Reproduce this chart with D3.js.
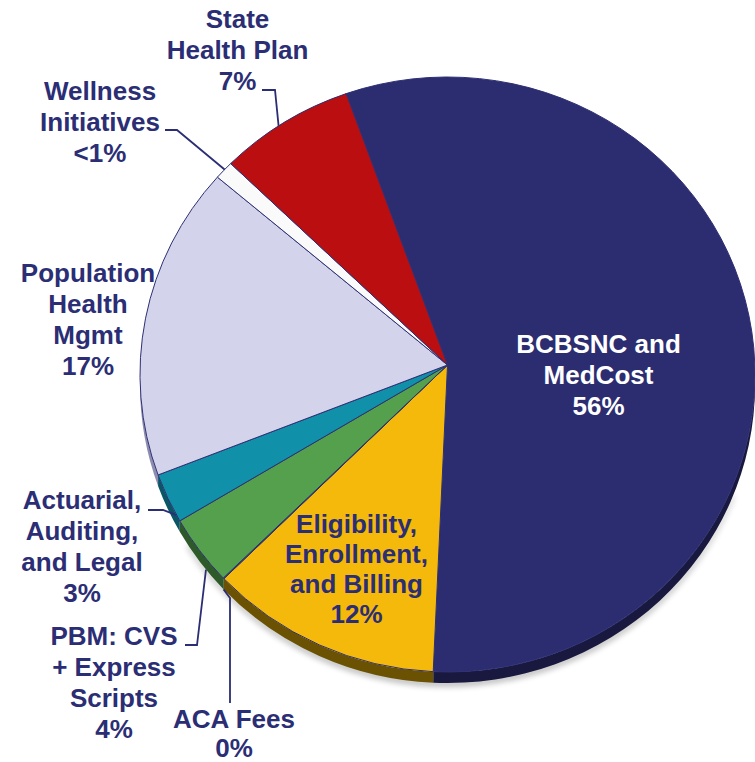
<!DOCTYPE html>
<html>
<head>
<meta charset="utf-8">
<script src="https://cdn.jsdelivr.net/npm/d3@7"></script>
<style>
  html, body { margin: 0; padding: 0; background: #ffffff; }
  svg { display: block; }
  text { font-family: "Liberation Sans", Arial, sans-serif; font-weight: bold; }
</style>
</head>
<body>
<script>
// ---------------- DATA ----------------
const categories = [
  "BCBSNC and MedCost",
  "Eligibility, Enrollment, and Billing",
  "ACA Fees",
  "PBM: CVS + Express Scripts",
  "Actuarial, Auditing, and Legal",
  "Population Health Mgmt",
  "Wellness Initiatives",
  "State Health Plan"
];
const values = [56.0, 12.2, 0.05, 3.8, 2.7, 17.0, 1.0, 7.1];
const pctLabels = ["56%", "12%", "0%", "4%", "3%", "17%", "<1%", "7%"];
const labelLines = [
  ["BCBSNC and", "MedCost"],
  ["Eligibility,", "Enrollment,", "and Billing"],
  ["ACA Fees"],
  ["PBM: CVS", "+ Express", "Scripts"],
  ["Actuarial,", "Auditing,", "and Legal"],
  ["Population", "Health", "Mgmt"],
  ["Wellness", "Initiatives"],
  ["State", "Health Plan"]
];

// ---------------- STYLE / LAYOUT ----------------
const topColors  = ["#2c2d70", "#f5b90c", "#3a6a35", "#55a04c", "#1190aa", "#d3d3ec", "#fafafa", "#bb0e10"];
const sideColors = ["#19183f", "#6b5203", "#24461f", "#2e5a2a", "#0a5566", "#8d8db0", "#a0a0a0", "#6a0708"];
const textColor = "#2b2e74";

const W = 755, H = 762;
const cx = 447.5, cy = 374.5, rx = 307.5, ry = 297.5;
const apex = [447.5, 365];
const depth = 11;
const startDeg = -19.24;

// label layout: [centerX, firstBaseline, lineHeight, fill]
const labelLayout = [
  [598.5, 353, 31, "#ffffff"],
  [356.5, 533, 30, textColor],
  [234, 728, 29, textColor],
  [114, 645, 31, textColor],
  [82, 509, 31, textColor],
  [88, 282, 31, textColor],
  [100, 100, 31, textColor],
  [237.5, 28, 31, textColor]
];
// leader lines: index -> {frac along slice, onSide (bottom of wall), elbow points}
const leaders = {
  7: {frac: 0.45, side: false, pts: [[262, 90], [275, 90]]},
  6: {frac: 0.55, side: false, pts: [[165, 130], [177, 130]]},
  4: {frac: 0.13, side: false, pts: [[148, 510], [163, 510]]},
  3: {frac: 0.36, side: true,  pts: [[185, 645], [197, 645]]},
  2: {frac: 0.5,  side: true,  pts: [[230, 703], [230, 598]]}
};

// ---------------- DRAW ----------------
const svg = d3.select("body").append("svg")
  .attr("width", W).attr("height", H);

const defs = svg.append("defs");
const blur = defs.append("filter").attr("id", "shadow")
  .attr("x", "-10%").attr("y", "-10%").attr("width", "120%").attr("height", "130%");
blur.append("feGaussianBlur").attr("stdDeviation", 3);

const rad = d => d * Math.PI / 180;
const pie = d3.pie().sort(null).value(d => d)
  .startAngle(rad(startDeg)).endAngle(rad(startDeg) + 2 * Math.PI);
const arcs = pie(values);

function pt(a, dy = 0) {
  return [cx + rx * Math.sin(a), cy - ry * Math.cos(a) + dy];
}
function slicePath(a0, a1) {
  const p0 = pt(a0), p1 = pt(a1);
  const large = (a1 - a0) > Math.PI ? 1 : 0;
  return `M${apex[0]},${apex[1]}L${p0[0]},${p0[1]}A${rx},${ry} 0 ${large} 1 ${p1[0]},${p1[1]}Z`;
}
function sidePath(a0, a1) {
  const s = Math.max(a0, Math.PI / 2), e = Math.min(a1, 3 * Math.PI / 2);
  if (e <= s) return null;
  const p0 = pt(s), p1 = pt(e), q1 = pt(e, depth), q0 = pt(s, depth);
  return `M${p0[0]},${p0[1]}A${rx},${ry} 0 0 1 ${p1[0]},${p1[1]}L${q1[0]},${q1[1]}A${rx},${ry} 0 0 0 ${q0[0]},${q0[1]}Z`;
}

// soft shadow under the pie wall
const sh0 = pt(Math.PI * 0.62, depth + 3), sh1 = pt(Math.PI * 1.32, depth + 3);
const sh0b = pt(Math.PI * 1.32, depth - 2), sh1b = pt(Math.PI * 0.62, depth - 2);
svg.append("path")
  .attr("d", `M${sh0[0]},${sh0[1]}A${rx},${ry} 0 0 1 ${sh1[0]},${sh1[1]}L${sh0b[0]},${sh0b[1]}A${rx},${ry} 0 0 0 ${sh1b[0]},${sh1b[1]}Z`)
  .attr("fill", "#000").attr("opacity", 0.35).attr("filter", "url(#shadow)");

// side walls
svg.append("g").selectAll("path")
  .data(arcs.filter(d => sidePath(d.startAngle, d.endAngle)))
  .join("path")
  .attr("d", d => sidePath(d.startAngle, d.endAngle))
  .attr("fill", d => sideColors[d.index]);

// top faces
svg.append("g").selectAll("path")
  .data(arcs)
  .join("path")
  .attr("d", d => slicePath(d.startAngle, d.endAngle))
  .attr("fill", d => topColors[d.index])
  .attr("stroke", "#2e3073")
  .attr("stroke-width", 1)
  .attr("stroke-linejoin", "round");

// leader lines
Object.keys(leaders).forEach(k => {
  const i = +k, L = leaders[k], d = arcs[i];
  const a = d.startAngle + L.frac * (d.endAngle - d.startAngle);
  const anchor = pt(a, L.side ? depth : 0);
  const pts = L.pts.concat([anchor]);
  svg.append("path")
    .attr("d", d3.line()(pts))
    .attr("fill", "none")
    .attr("stroke", textColor)
    .attr("stroke-width", 1.8);
});

// labels
const labels = svg.append("g").selectAll("text")
  .data(arcs)
  .join("text")
  .attr("text-anchor", "middle")
  .attr("font-size", 26)
  .attr("fill", d => labelLayout[d.index][3]);
labels.each(function (d) {
  const [x, y, lh] = labelLayout[d.index];
  const lines = labelLines[d.index].concat([pctLabels[d.index]]);
  d3.select(this).selectAll("tspan")
    .data(lines)
    .join("tspan")
    .attr("x", x)
    .attr("y", (t, j) => y + j * lh)
    .text(t => t);
});
</script>
</body>
</html>
